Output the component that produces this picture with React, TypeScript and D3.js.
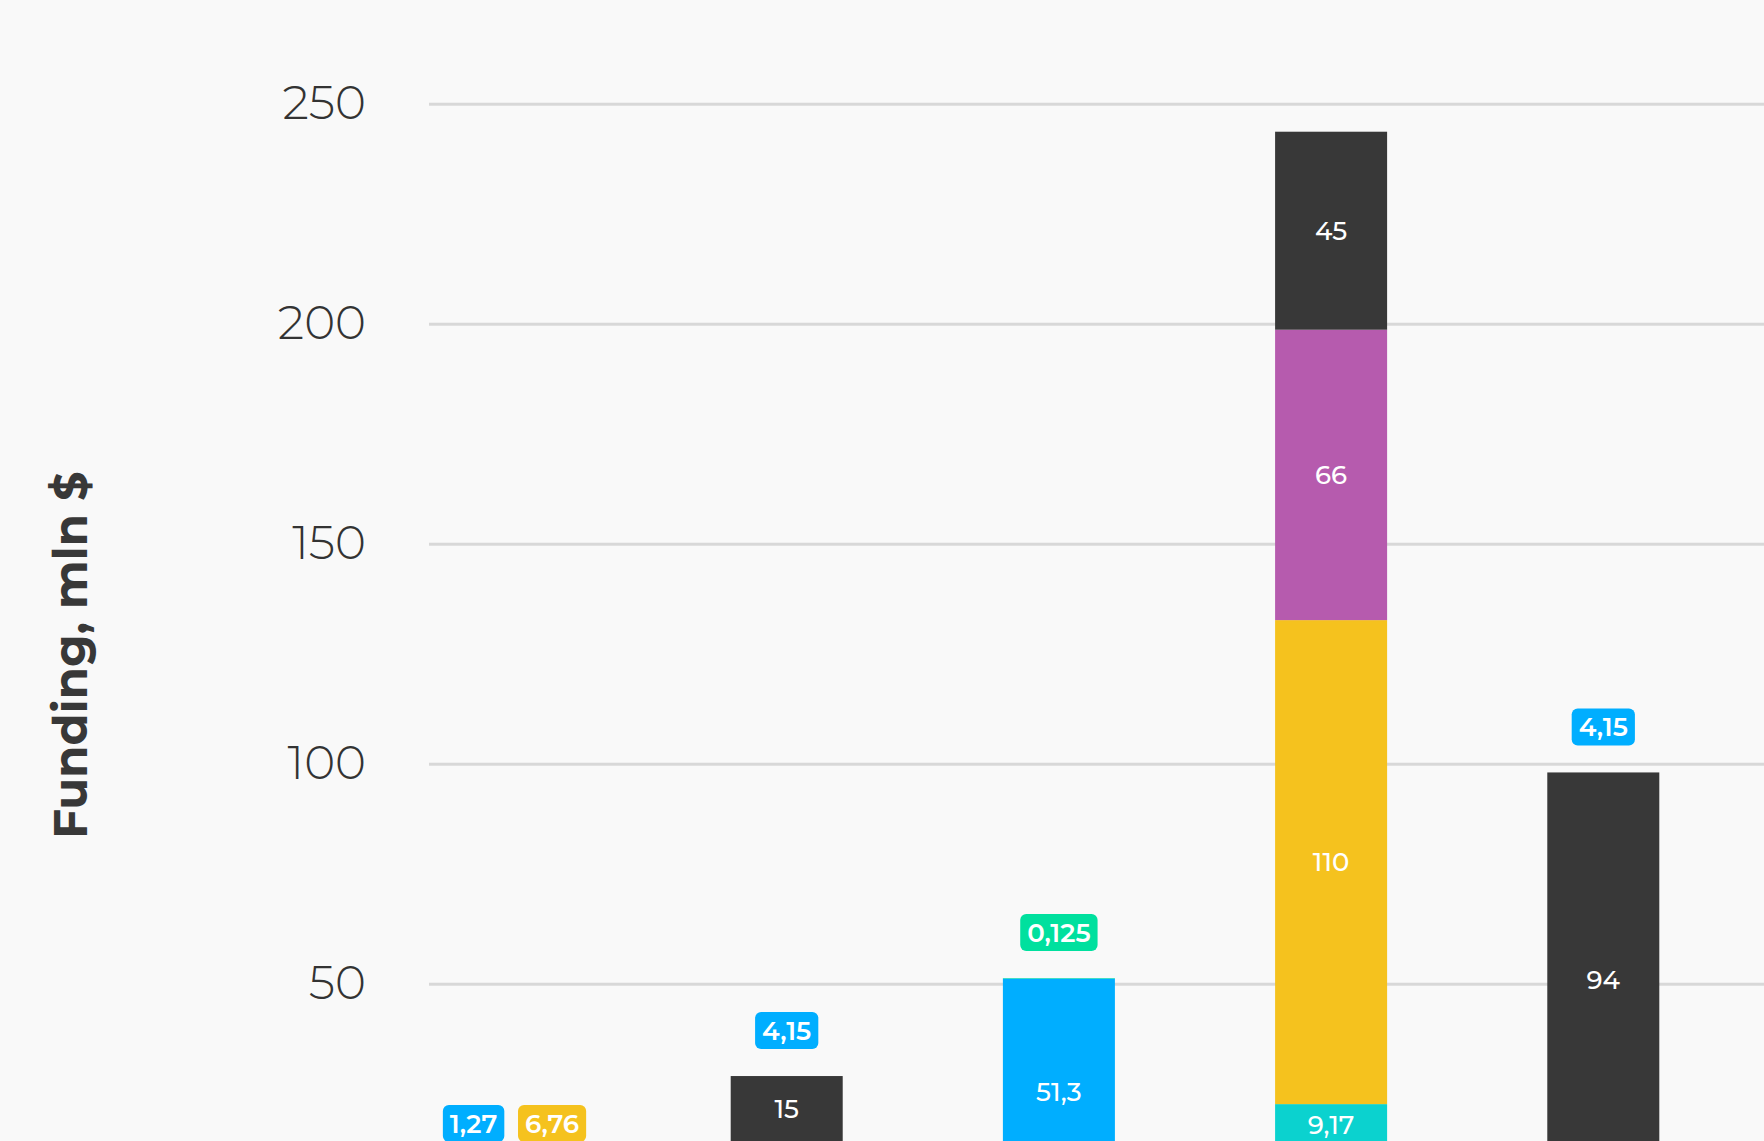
import React from "react";
import * as d3 from "d3";

// ---- data ----
const categories = ["C1", "C2", "C3", "C4", "C5"];
// stacked from bottom to top
const seriesKeys = ["hidden", "blue", "cyan", "yellow", "purple", "dark", "green"];
const seriesColors = ["#9aa0a6", "#00AEFF", "#0BD2CF", "#F5C21E", "#B65BAE", "#383838", "#00E09E"];
const seriesLabeled = [false, true, true, true, true, true, true];
// estimated part of the stacks that lies below the visible crop
const hiddenValues = [0, 10.0, 0, 13.6, 0];
const blueValues = [1.27, 4.15, 51.3, 0, 4.15];
const cyanValues = [0, 0, 0, 9.17, 0];
const yellowValues = [6.76, 0, 0, 110, 0];
const purpleValues = [0, 0, 0, 66, 0];
const darkValues = [0, 15, 0, 45, 94];
const greenValues = [0, 0, 0.125, 0, 0];
const yTicks = [50, 100, 150, 200, 250];
const yTitle = "Funding, mln $";

const W = 1764;
const H = 1141;
const FONT = "Montserrat, Inter, 'Noto Sans', sans-serif";

const valueSets = [hiddenValues, blueValues, cyanValues, yellowValues, purpleValues, darkValues, greenValues];

const fmt = (v: number) => String(v).replace(".", ",");

let ctx: CanvasRenderingContext2D | null = null;
function measure(text: string, font: string) {
  if (!ctx) ctx = document.createElement("canvas").getContext("2d");
  if (!ctx) return text.length * 14;
  ctx.font = font;
  return ctx.measureText(text).width;
}

export default function App() {
  const y = d3.scaleLinear().domain([0, 250]).range([1204.3, 104.3]);
  const x = d3
    .scaleBand<string>()
    .domain(categories)
    .range([378.4, 1739.4])
    .paddingInner(0.5885)
    .paddingOuter(0.29425);

  const table = categories.map((c, i) => {
    const row: any = { cat: c };
    seriesKeys.forEach((k, s) => (row[k] = valueSets[s][i]));
    return row;
  });
  const stacked = d3.stack<any>().keys(seriesKeys)(table);

  const insideFont = `500 26px ${FONT}`;
  const tagFont = `600 26px ${FONT}`;
  const bw = x.bandwidth();

  const rects: React.ReactNode[] = [];
  const inside: React.ReactNode[] = [];
  const tags: React.ReactNode[] = [];

  categories.forEach((c, i) => {
    const x0 = x(c)!;
    const cx = x0 + bw / 2;
    let top = y(0);
    const small: { text: string; color: string }[] = [];
    stacked.forEach((layer, s) => {
      const [a, b] = layer[i];
      const v = valueSets[s][i];
      if (v <= 0) return;
      const yTop = y(b);
      const yBot = y(a);
      top = Math.min(top, yTop);
      rects.push(
        <rect key={`r${s}-${i}`} x={x0} y={yTop} width={bw} height={yBot - yTop} fill={seriesColors[s]} />
      );
      if (!seriesLabeled[s]) return;
      if (yBot - yTop >= 34) {
        inside.push(
          <text
            key={`t${s}-${i}`}
            x={cx}
            y={(yTop + yBot) / 2}
            dy="0.36em"
            textAnchor="middle"
            fill="#ffffff"
            style={{ font: insideFont }}
          >
            {fmt(v)}
          </text>
        );
      } else {
        small.push({ text: fmt(v), color: seriesColors[s] });
      }
    });
    if (small.length) {
      const pad = 7;
      const gap = 13.7;
      const boxH = 37;
      const widths = small.map((t) => measure(t.text, tagFont) + pad * 2);
      const total = widths.reduce((p, q) => p + q, 0) + gap * (small.length - 1);
      let bx = cx - total / 2;
      const by = top - 27 - boxH;
      small.forEach((t, k) => {
        const w = widths[k];
        tags.push(
          <g key={`g${i}-${k}`}>
            <rect x={bx} y={by} width={w} height={boxH} rx={6} ry={6} fill={t.color} />
            <text
              x={bx + w / 2}
              y={by + boxH / 2}
              dy="0.36em"
              textAnchor="middle"
              fill="#ffffff"
              style={{ font: tagFont }}
            >
              {t.text}
            </text>
          </g>
        );
        bx += w + gap;
      });
    }
  });

  return (
    <>
      <style>{`body{margin:0;background:#F9F9F9;}`}</style>
      <svg width={W} height={H} viewBox={`0 0 ${W} ${H}`} style={{ display: "block" }}>
        <rect x={0} y={0} width={W} height={H} fill="#F9F9F9" />
        {yTicks.map((t) => (
          <g key={t}>
            <line x1={429} x2={W} y1={y(t)} y2={y(t)} stroke="#D8D8D8" strokeWidth={3} />
            <text
              x={366}
              y={y(t)}
              dy="0.32em"
              textAnchor="end"
              fill="#333333"
              style={{ font: `300 47px ${FONT}` }}
            >
              {t}
            </text>
          </g>
        ))}
        <text
          transform={`translate(87,655) rotate(-90)`}
          textAnchor="middle"
          fill="#383838"
          style={{ font: `700 46.5px ${FONT}` }}
        >
          {yTitle}
        </text>
        {rects}
        {inside}
        {tags}
      </svg>
    </>
  );
}
